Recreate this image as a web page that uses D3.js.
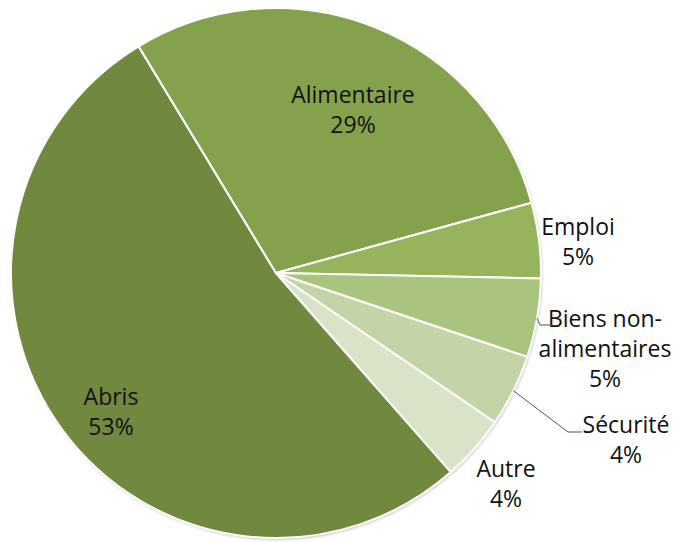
<!DOCTYPE html>
<html>
<head>
<meta charset="utf-8">
<script src="https://cdn.jsdelivr.net/npm/d3@7"></script>
<style>
  body { margin: 0; background: #fff; }
  svg text { font-family: "Open Sans", "Noto Sans", sans-serif; fill: #111; }
</style>
</head>
<body>
<div id="chart"></div>
<script>
// data
const categories = ["Abris", "Alimentaire", "Emploi", "Biens non-alimentaires", "Sécurité", "Autre"];
const shares = [52.8, 29.4, 4.6, 4.8, 4.4, 4.0];
const colors = ["#71893f", "#84a24c", "#95b45b", "#a9c47e", "#c3d4a7", "#d8e3c7"];

const width = 678, height = 542;
const cx = 276, cy = 273, radius = 265;

const svg = d3.select("#chart").append("svg")
    .attr("width", width)
    .attr("height", height);

const defs = svg.append("defs");
const filt = defs.append("filter").attr("id", "shadow")
    .attr("x", "-10%").attr("y", "-10%").attr("width", "120%").attr("height", "120%");
filt.append("feDropShadow")
    .attr("dx", 1).attr("dy", 1.5).attr("stdDeviation", 1.5)
    .attr("flood-color", "#000").attr("flood-opacity", 0.25);

const g = svg.append("g").attr("transform", `translate(${cx},${cy})`);

const start = 138.7 * Math.PI / 180;
const pie = d3.pie().sort(null).value(d => d)
    .startAngle(start).endAngle(start + 2 * Math.PI);
const arcs = pie(shares);
const arc = d3.arc().innerRadius(0).outerRadius(radius);

// soft rim behind the pie
g.append("circle")
    .attr("r", radius)
    .attr("fill", "#fff")
    .attr("filter", "url(#shadow)");

g.selectAll("path.slice")
    .data(arcs)
    .join("path")
    .attr("class", "slice")
    .attr("d", arc)
    .attr("fill", (d, i) => colors[i])
    .attr("stroke", "#fff")
    .attr("stroke-width", 2)
    .attr("stroke-linejoin", "round");

// label layout (text block centre x, first baseline y), in page coords
const labelLayout = {
  "Abris": { x: 111, y: 405, lines: ["Abris"] },
  "Alimentaire": { x: 353, y: 103, lines: ["Alimentaire"] },
  "Emploi": { x: 578, y: 235, lines: ["Emploi"] },
  "Biens non-alimentaires": { x: 605, y: 327, lines: ["Biens non-", "alimentaires"] },
  "Sécurité": { x: 626, y: 433, lines: ["Sécurité"] },
  "Autre": { x: 506, y: 477, lines: ["Autre"] }
};
const lineH = 30;

categories.forEach((c, i) => {
  const L = labelLayout[c];
  const t = svg.append("text")
      .attr("text-anchor", "middle")
      .attr("font-size", "23px");
  const lines = L.lines.concat([Math.round(shares[i]) + "%"]);
  lines.forEach((s, k) => {
    t.append("tspan").attr("x", L.x).attr("y", L.y + k * lineH).text(s);
  });
});

// leader lines
const leaderFor = (i, ex, ey, hx) => {
  const d = arcs[i];
  const mid = (d.startAngle + d.endAngle) / 2;
  const [px, py] = [cx + Math.sin(mid) * radius, cy - Math.cos(mid) * radius];
  svg.append("polyline")
      .attr("points", `${px},${py} ${ex},${ey} ${hx},${ey}`)
      .attr("fill", "none")
      .attr("stroke", "#555")
      .attr("stroke-width", 1);
};
leaderFor(3, 540, 325, 552);
leaderFor(4, 568, 432, 582);
</script>
</body>
</html>
